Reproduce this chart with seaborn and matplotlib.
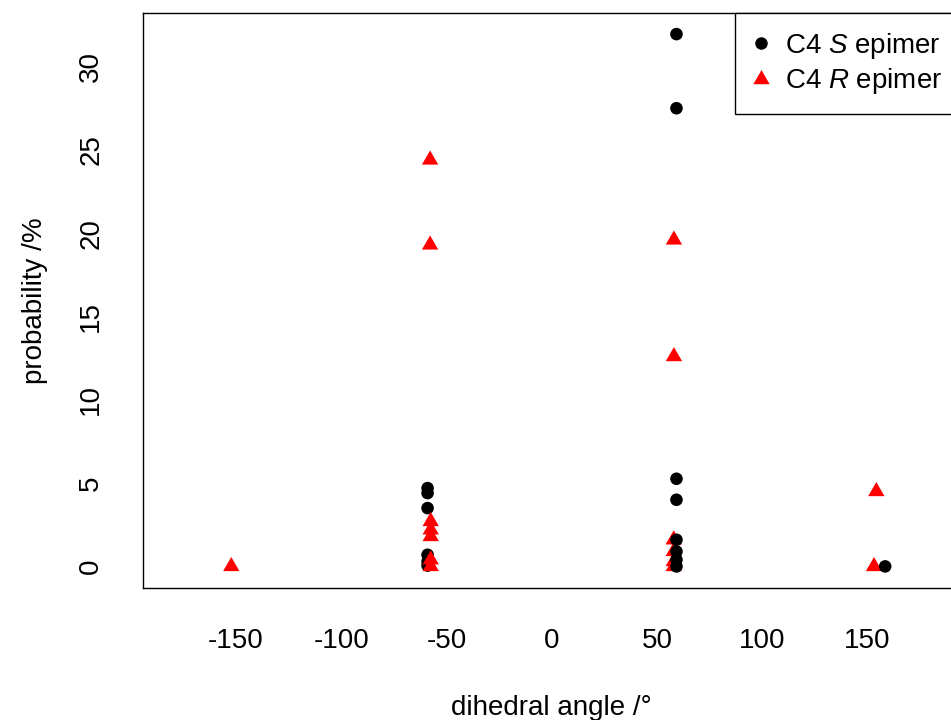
import matplotlib
matplotlib.use("Agg")
import matplotlib.pyplot as plt
from matplotlib.path import Path
from matplotlib.lines import Line2D
import pandas as pd
import seaborn as sns

# C4 S epimer: dihedral angle (deg) and probability (%)
s_angle = [-59.0, -59.0, -59.0, -59.0, -59.0, -59.0,
           59.3, 59.3, 59.3, 59.3, 59.3, 59.3, 59.3, 59.3,
           158.5]
s_prob = [4.7, 4.4, 3.5, 0.7, 0.3, 0.05,
          31.95, 27.5, 5.26, 4.0, 1.6, 0.9, 0.4, 0.0,
          0.0]

# C4 R epimer
r_angle = [-152.3,
           -57.8, -57.8, -57.5, -57.5, -57.5, -57.5, -57.5,
           58.1, 58.1, 58.0, 58.0, 58.0, 58.0,
           154.3, 153.2]
r_prob = [0.0,
          24.4, 19.3, 2.7, 2.2, 1.8, 0.4, 0.0,
          19.6, 12.6, 1.6, 0.9, 0.3, 0.0,
          4.5, 0.0]

x_range = (-180, 180)
x_ticks = [-150, -100, -50, 0, 50, 100, 150]
y_ticks = [0, 5, 10, 15, 20, 25, 30]
labels = {"S": "C4 $\\mathit{S}$ epimer", "R": "C4 $\\mathit{R}$ epimer"}

sns.set_style("white")
plt.rcParams["font.family"] = ["Liberation Sans", "DejaVu Sans"]
plt.rcParams["mathtext.fontset"] = "custom"
plt.rcParams["mathtext.rm"] = "Liberation Sans"
plt.rcParams["mathtext.it"] = "Liberation Sans:italic"
plt.rcParams["text.color"] = "black"

FS = 20

df = pd.concat([
    pd.DataFrame({"angle": s_angle, "prob": s_prob, "epimer": "S"}),
    pd.DataFrame({"angle": r_angle, "prob": r_prob, "epimer": "R"}),
], ignore_index=True).sort_values("angle", kind="stable")

# filled triangle whose centroid sits on the data point
tri = Path([(0, 1), (-0.866, -0.5), (0.866, -0.5), (0, 1)],
           [Path.MOVETO, Path.LINETO, Path.LINETO, Path.CLOSEPOLY])

W, H = 951, 720
fig = plt.figure(figsize=(W / 100, H / 100), dpi=100)
ax = fig.add_axes([142.7 / W, 1 - 587.7 / H, 818 / W, (587.7 - 12.8) / H])

sns.scatterplot(data=df, x="angle", y="prob", hue="epimer", style="epimer",
                size="epimer",
                palette={"S": "black", "R": "#ff0000"},
                markers={"S": "o", "R": tri},
                sizes={"S": 82, "R": 185},
                linewidth=0, legend=False, ax=ax)

# R-style 4% padding of the plotting ranges
xpad = 0.04 * (x_range[1] - x_range[0])
ax.set_xlim(x_range[0] - xpad, x_range[1] + xpad)
ymin, ymax = min(s_prob + r_prob), max(s_prob + r_prob)
ypad = 0.04 * (ymax - ymin)
ax.set_ylim(ymin - ypad, ymax + ypad)

ax.set_xticks(x_ticks)
ax.set_yticks(y_ticks)
ax.set_xticklabels([str(v) for v in x_ticks])
ax.set_yticklabels([str(v) for v in y_ticks])
ax.tick_params(axis="both", direction="out", length=12.2, width=1.0,
               color="black", labelsize=FS, labelcolor="black")
ax.tick_params(axis="x", pad=17)
ax.tick_params(axis="y", pad=15.5, labelrotation=90)
for lab in ax.get_yticklabels():
    lab.set_va("center")

for sp in ax.spines.values():
    sp.set_visible(True)
    sp.set_color("black")
    sp.set_linewidth(1.0)

ax.set_xlabel("dihedral angle /°", fontsize=FS, color="black", labelpad=29)
ax.set_ylabel("probability /%", fontsize=FS, color="black", labelpad=22)
ax.grid(False)

handles = [
    Line2D([], [], marker="o", color="black", linestyle="none", markersize=9.0,
           markeredgewidth=0),
    Line2D([], [], marker=tri, color="#ff0000", linestyle="none", markersize=13.6,
           markeredgewidth=0),
]
leg = ax.legend(handles, [labels["S"], labels["R"]], loc="upper right",
                bbox_to_anchor=(1, 1), borderaxespad=0, fontsize=FS,
                frameon=True, fancybox=False, framealpha=1, edgecolor="black",
                borderpad=0.65, handlelength=0.55, handletextpad=0.6,
                labelspacing=0.2)
leg.get_frame().set_linewidth(1.0)

fig.savefig("out.png", dpi=100, facecolor="white")
